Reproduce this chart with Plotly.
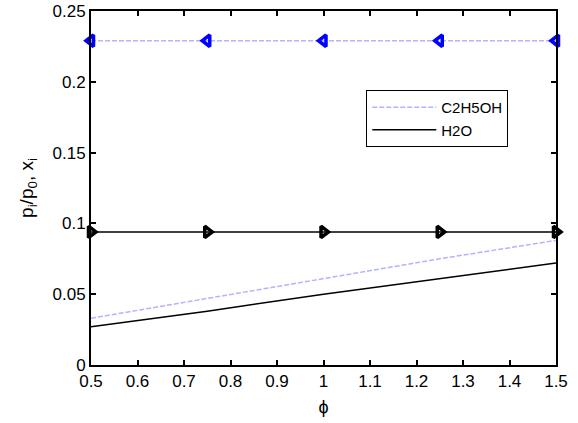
import plotly.graph_objects as go

phi = [0.5, 0.75, 1.0, 1.25, 1.5]
c2h5oh_mole_frac = [0.033, 0.047, 0.061, 0.075, 0.088]
h2o_mole_frac = [0.027, 0.038, 0.050, 0.061, 0.072]
c2h5oh_pressure_ratio = [0.229, 0.229, 0.229, 0.229, 0.229]
h2o_pressure_ratio = [0.094, 0.094, 0.094, 0.094, 0.094]
x_ticks = [0.5, 0.6, 0.7, 0.8, 0.9, 1.0, 1.1, 1.2, 1.3, 1.4, 1.5]
x_ticklabels = ["0.5", "0.6", "0.7", "0.8", "0.9", "1", "1.1", "1.2", "1.3", "1.4", "1.5"]
y_ticks = [0, 0.05, 0.1, 0.15, 0.2, 0.25]
y_ticklabels = ["0", "0.05", "0.1", "0.15", "0.2", "0.25"]

LIGHT = "#b3b3ff"
FONT = "Liberation Sans, Arial, sans-serif"
DASH = "5px,2px"

fig = go.Figure()
fig.add_trace(go.Scatter(x=phi, y=c2h5oh_pressure_ratio, mode="lines+markers",
                         line=dict(color=LIGHT, width=1.5, dash=DASH),
                         marker=dict(symbol="triangle-left-open", size=10, color="#0000ff",
                                     line=dict(width=3.5, color="#0000ff")),
                         showlegend=False, cliponaxis=False))
fig.add_trace(go.Scatter(x=phi, y=h2o_pressure_ratio, mode="lines+markers",
                         line=dict(color="black", width=1.5),
                         marker=dict(symbol="triangle-right-open", size=10, color="black",
                                     line=dict(width=3.5, color="black")),
                         showlegend=False, cliponaxis=False))
fig.add_trace(go.Scatter(x=phi, y=c2h5oh_mole_frac, mode="lines", name="C2H5OH",
                         line=dict(color=LIGHT, width=1.5, dash=DASH)))
fig.add_trace(go.Scatter(x=phi, y=h2o_mole_frac, mode="lines", name="H2O",
                         line=dict(color="black", width=1.5)))

axis_common = dict(showline=True, linecolor="black", linewidth=2, mirror="ticks",
                   ticks="inside", ticklen=5, tickwidth=1.5, tickcolor="black",
                   showgrid=False, zeroline=False, automargin=False,
                   tickfont=dict(family=FONT, size=17, color="black"))

fig.update_xaxes(range=[0.5, 1.5], tickmode="array", tickvals=x_ticks, ticktext=x_ticklabels,
                 title=dict(text="ϕ", font=dict(family=FONT, size=18, color="black"), standoff=10),
                 **axis_common)
fig.update_yaxes(range=[0, 0.25], tickmode="array", tickvals=y_ticks, ticktext=y_ticklabels,
                 title=dict(text="p<sub>i</sub>/p<sub>0</sub>, x<sub>i</sub>",
                            font=dict(family=FONT, size=19, color="black"), standoff=14),
                 **axis_common)

fig.update_layout(
    width=578, height=423,
    margin=dict(l=91, r=22, t=11, b=58),
    paper_bgcolor="white", plot_bgcolor="white",
    font=dict(family=FONT, color="black"),
    legend=dict(x=0.592, y=0.777, xanchor="left", yanchor="top",
                bgcolor="white", bordercolor="black", borderwidth=1,
                font=dict(family=FONT, size=15, color="black"),
                itemwidth=64, tracegroupgap=2),
)

fig.write_html("out.html", config={"displayModeBar": False},
               post_script="document.body.style.margin='0';document.body.style.overflow='hidden';")
